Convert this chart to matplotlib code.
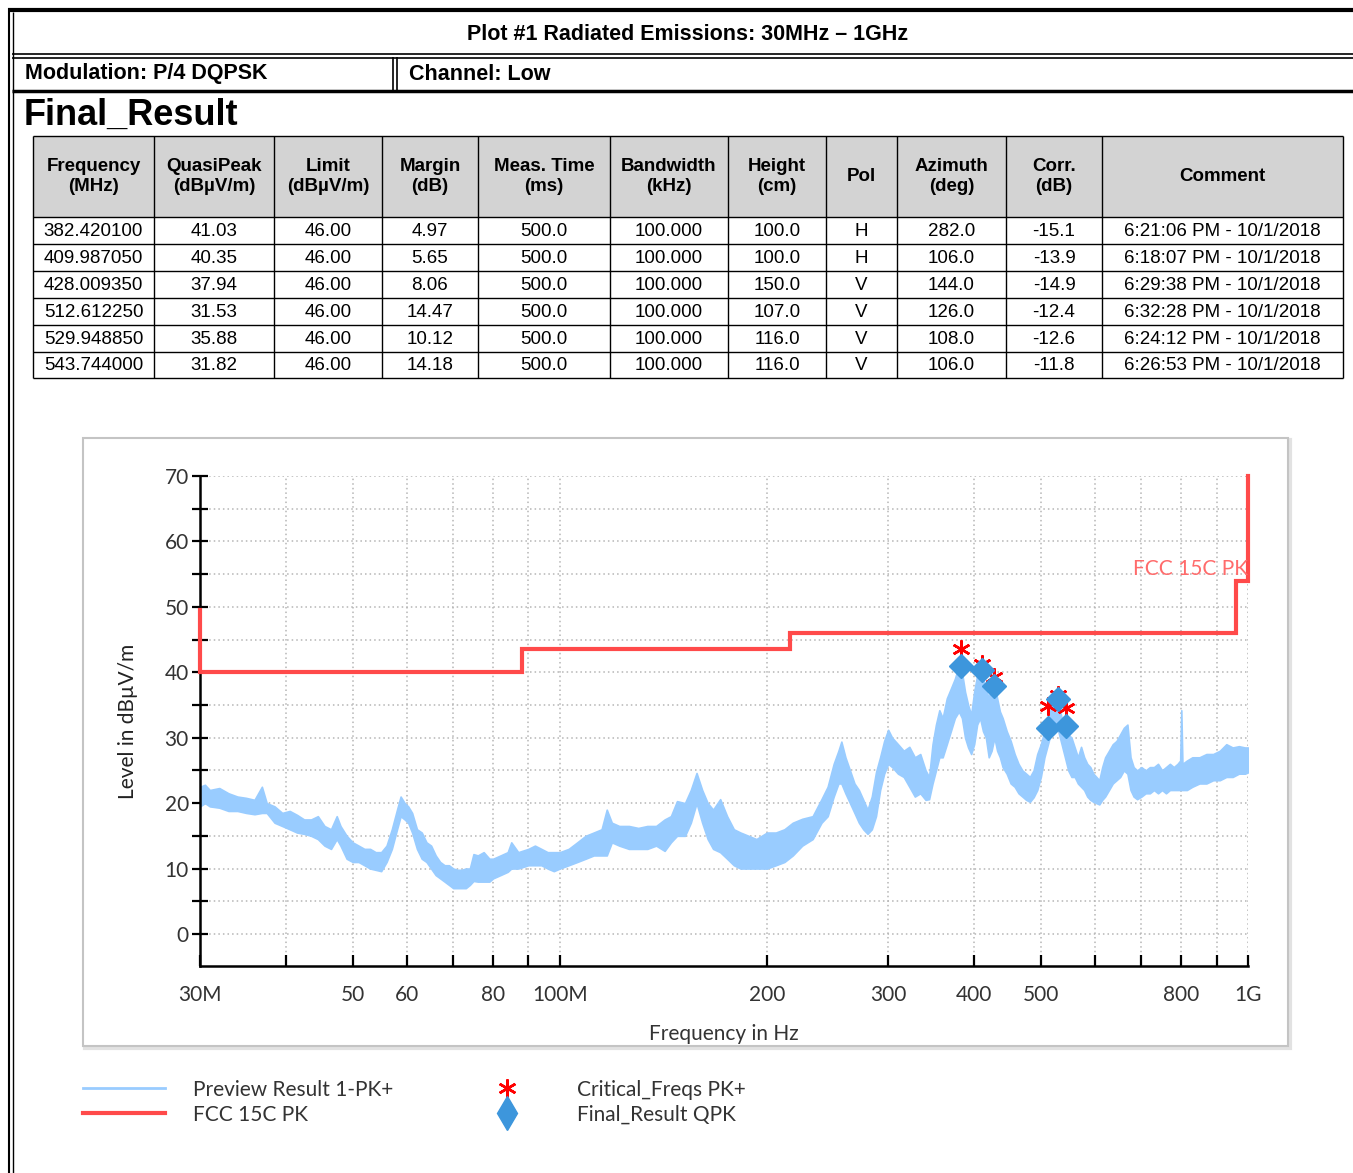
import matplotlib
matplotlib.use("Agg")
import matplotlib.pyplot as plt
import numpy as np

# ---- table data (Final_Result) ----
headers = ["Frequency\n(MHz)", "QuasiPeak\n(dBµV/m)", "Limit\n(dBµV/m)", "Margin\n(dB)",
           "Meas. Time\n(ms)", "Bandwidth\n(kHz)", "Height\n(cm)", "Pol",
           "Azimuth\n(deg)", "Corr.\n(dB)", "Comment"]
freq_mhz = [382.420100, 409.987050, 428.009350, 512.612250, 529.948850, 543.744000]
quasipeak = [41.03, 40.35, 37.94, 31.53, 35.88, 31.82]
limit = [46.00, 46.00, 46.00, 46.00, 46.00, 46.00]
margin = [4.97, 5.65, 8.06, 14.47, 10.12, 14.18]
meas_time = [500.0, 500.0, 500.0, 500.0, 500.0, 500.0]
bandwidth = [100.000, 100.000, 100.000, 100.000, 100.000, 100.000]
height = [100.0, 100.0, 150.0, 107.0, 116.0, 116.0]
pol = ["H", "H", "V", "V", "V", "V"]
azimuth = [282.0, 106.0, 144.0, 126.0, 108.0, 106.0]
corr = [-15.1, -13.9, -14.9, -12.4, -12.6, -11.8]
comment = ["6:21:06 PM - 10/1/2018", "6:18:07 PM - 10/1/2018", "6:29:38 PM - 10/1/2018",
           "6:32:28 PM - 10/1/2018", "6:24:12 PM - 10/1/2018", "6:26:53 PM - 10/1/2018"]

# critical frequencies PK+
crit_level = [43.6, 41.2, 39.3, 34.9, 36.6, 34.6]

# ---- limit line FCC 15C PK ----
lim_freq = [30, 30, 88, 88, 216, 216, 960, 960, 1000, 1000]
lim_level = [49.5, 40, 40, 43.5, 43.5, 46, 46, 54, 54, 70]

# ---- preview trace envelope (MHz, low dB, high dB) ----
trace_freq = [30, 30.5, 31, 32, 33, 34, 35, 36, 36.9, 37.5, 38.5, 39.5, 40.5, 41.5, 42.5, 43.5,
              44.5, 45.5, 46.5, 47.4, 48, 49, 50, 51, 52, 53, 54, 55, 56, 57, 58, 58.7, 59.5,
              60.2, 61, 62, 63, 64, 65, 66, 67, 68, 69, 70, 71, 72, 73, 74, 74.9, 76, 77.5,
              79, 80, 82, 84, 85, 87, 90, 92, 94, 96, 98, 100, 103, 106, 109, 112, 115, 117,
              119, 122, 126, 130, 134, 138, 142, 145, 148, 152, 155, 158, 161, 164, 167, 171,
              175, 179, 183, 188, 193, 200, 206, 212, 218, 225, 233, 240, 245, 250, 254, 256.5,
              260, 264, 268, 272, 276, 280, 284, 288, 292, 296, 300, 304, 310, 316, 322, 328,
              334, 340, 344, 348, 352, 356, 360, 365, 370, 375, 380, 384, 388, 392, 396, 400,
              404, 408, 412, 416, 420, 424, 428, 432, 436, 440, 446, 452, 458, 464, 470, 476,
              482, 488, 494, 500, 506, 512, 518, 524, 530, 536, 542, 548, 554, 560, 566, 572,
              578, 584, 590, 596, 602, 608, 614, 620, 628, 636, 644, 652, 660, 668, 675, 682,
              690, 700, 710, 720, 730, 740, 750, 760, 770, 780, 790, 797, 800, 803, 815, 830,
              850, 870, 890, 910, 930, 950, 970, 990, 1000]
trace_low = [19.5, 20, 19.5, 19.3, 18.8, 18.8, 18.5, 18.3, 18.5, 18.5, 17, 16.5, 16, 15.5, 15.3, 15,
             14.5, 13.5, 13, 14.5, 13.5, 11.5, 11, 11, 10.5, 10, 9.8, 9.6, 11, 13, 16, 18, 17.5,
             17, 15.5, 13, 11.5, 11, 10, 9, 8.5, 8, 7.5, 7, 7, 7, 7, 7.5, 8.1, 8, 8,
             8, 8.5, 9, 9.5, 10, 10, 10.5, 10.5, 10.5, 10, 9.6, 10, 10.5, 11, 11.5, 12, 12, 12,
             14, 13.5, 13, 13, 13, 13.5, 12.7, 14, 15, 15, 17, 20, 17, 14.5, 13, 12.5,
             11.5, 10.5, 10, 10, 10, 10, 10.5, 11, 12, 13.5, 14.5, 17, 18, 21, 23, 23,
             21.5, 20, 18.5, 17, 16, 15.3, 16, 18, 22, 24.5, 26, 25.5, 24.5, 24, 22.5, 21,
             21.5, 20.5, 20.6, 23, 25, 27, 27, 29, 31, 33, 34, 33, 30, 28.5, 27.5, 29,
             32, 33, 31, 30, 27, 28, 30, 28, 27, 25.5, 24.5, 23, 22.5, 21.5, 21, 20.5,
             20.2, 20.9, 22, 24, 27, 29, 31, 32, 31, 29, 27, 25, 24, 24, 23, 22.5,
             22, 21, 20.5, 20.2, 20, 19.8, 20.5, 21, 22, 23, 23.5, 24, 25, 24.5, 22, 21,
             20.6, 21, 21.5, 21.5, 22, 21.5, 22, 21.5, 22, 22, 22, 22, 22, 22, 22, 22.5,
             23, 23, 23.5, 23.5, 24, 24, 24.5, 24.5, 24.7]
trace_high = [22.5, 22.8, 22, 22.3, 21.5, 21, 20.8, 20.5, 22.5, 20, 19.5, 18.5, 18.8, 18.2, 17.5, 17.5,
              18, 16.5, 16, 18, 16.5, 15, 14, 13.5, 13, 13, 12.5, 12.5, 13.5, 16, 19, 21, 20,
              19.5, 18.5, 16, 15.5, 14, 13.5, 12, 11, 10.5, 10.5, 10, 9.8, 9.8, 10, 10, 12.2, 12, 12.5,
              11.5, 11.5, 12, 12.5, 14, 12.5, 13, 13.5, 13, 12.5, 12.5, 12.5, 13, 14, 15, 15.5, 16, 19,
              17, 16.5, 16.5, 16.2, 16.5, 16.5, 17.5, 18, 20.3, 20, 22, 24.6, 22, 20, 19, 20.6,
              18, 16, 15.5, 15, 14.5, 15.5, 15.5, 16, 17, 17.6, 18, 20.6, 22.5, 26, 28, 29.4,
              27, 25, 23, 22, 20.5, 19, 21, 24.7, 27, 29.5, 31.2, 30, 29, 28, 28.6, 27,
              27.5, 25, 24, 29, 32, 34.2, 33, 36, 37.5, 39, 41, 40, 37, 35, 33.5, 37,
              39.5, 40, 39, 37.5, 36, 38, 38, 36, 34, 33, 31, 29.5, 27.5, 26, 25, 24.5,
              24, 25, 27.5, 29, 31, 32, 35, 35.5, 35.5, 33, 31.5, 30.5, 30, 28.5, 27, 28.6,
              27, 26, 25.5, 24.5, 24, 23.5, 25.5, 27, 28, 29, 29.5, 30.5, 31.5, 32, 27, 25.5,
              25, 25.5, 25, 25.5, 25.5, 26, 25, 25.5, 26, 25.5, 26, 26.5, 34.2, 26, 26.5, 27,
              27, 27.5, 27.5, 28, 29, 28.5, 28.7, 28.5, 28.5]

x_tick_major = [30, 50, 60, 80, 100, 200, 300, 400, 500, 800, 1000]
x_tick_labels = ["30M", "50", "60", "80", "100M", "200", "300", "400", "500", "800", "1G"]
x_tick_minor = [40, 70, 90, 600, 700, 900]

W, H = 1353, 1173
fig = plt.figure(figsize=(W / 100, H / 100), dpi=100)
fig.patch.set_facecolor("white")

narrow = ["Liberation Sans", "DejaVu Sans"]
thin = ["Lato", "DejaVu Sans"]
text_grey = "#333333"

# overlay in pixel coordinates for the report frame, table and legend
bg = fig.add_axes([0, 0, 1, 1])
bg.set_xlim(0, W)
bg.set_ylim(H, 0)
bg.axis("off")

def hline(y, x0, x1, lw=1.0):
    bg.plot([x0, x1], [y, y], color="black", lw=lw, solid_capstyle="butt")

def vline(x, y0, y1, lw=1.0):
    bg.plot([x, x], [y0, y1], color="black", lw=lw, solid_capstyle="butt")

# report frame
hline(10, 8, W, lw=3)
vline(8.5, 8, H, lw=1.5)
vline(12.5, 12, H, lw=1.0)
hline(53.5, 12, W, lw=1.2)
hline(57.5, 12, W, lw=1.2)
hline(90.5, 12, W, lw=2.5)
vline(392.5, 57, 90, lw=1.2)
vline(396.5, 57, 90, lw=1.2)

bg.text(688, 34, "Plot #1 Radiated Emissions: 30MHz \u2013 1GHz", ha="center", va="center",
        fontsize=15.5, fontweight="bold", family=narrow)
bg.text(25, 74, "Modulation: P/4 DQPSK", ha="left", va="center",
        fontsize=15.5, fontweight="bold", family=narrow)
bg.text(409, 74, "Channel: Low", ha="left", va="center",
        fontsize=15.5, fontweight="bold", family=narrow)
bg.text(24, 115, "Final_Result", ha="left", va="center",
        fontsize=26, fontweight="bold", family=narrow)

# table
col_x = [33, 154, 274, 382, 478, 610, 728, 826, 897, 1006, 1102, 1343]
row_y = [136, 217, 244, 271, 298, 325, 352, 378]
bg.add_patch(plt.Rectangle((col_x[0], row_y[0]), col_x[-1] - col_x[0], row_y[1] - row_y[0],
                           facecolor="#d3d3d3", edgecolor="none"))
for y in row_y:
    hline(y, col_x[0], col_x[-1], lw=1.0)
for x in col_x:
    vline(x, row_y[0], row_y[-1], lw=1.0)

rows = []
for i in range(len(freq_mhz)):
    rows.append([f"{freq_mhz[i]:.6f}", f"{quasipeak[i]:.2f}", f"{limit[i]:.2f}", f"{margin[i]:.2f}",
                 f"{meas_time[i]:.1f}", f"{bandwidth[i]:.3f}", f"{height[i]:.1f}", pol[i],
                 f"{azimuth[i]:.1f}", f"{corr[i]:.1f}", comment[i]])

for j, h in enumerate(headers):
    cx = (col_x[j] + col_x[j + 1]) / 2
    bg.text(cx, (row_y[0] + row_y[1]) / 2, h, ha="center", va="center", fontsize=13.5,
            fontweight="bold", family=narrow, linespacing=1.3)
for i, r in enumerate(rows):
    cy = (row_y[i + 1] + row_y[i + 2]) / 2
    for j, v in enumerate(r):
        cx = (col_x[j] + col_x[j + 1]) / 2
        bg.text(cx, cy + 1, v, ha="center", va="center", fontsize=13.5, family=narrow)

# chart panel frame
bg.add_patch(plt.Rectangle((85, 440), 1205, 608, facecolor="none", edgecolor="#e2e2e2", lw=3))
bg.add_patch(plt.Rectangle((83, 438), 1205, 608, facecolor="white", edgecolor="#c4c4c4", lw=1.5))

# ---- chart ----
ax = fig.add_axes([200 / W, 1 - 966 / H, 1048 / W, 490 / H])
ax.set_xscale("log")
ax.set_xlim(30, 1000)
ax.set_ylim(-4.9, 70)
ax.set_facecolor("none")

trace_color = "#99ccff"
ax.fill_between(trace_freq, trace_low, trace_high, color=trace_color, lw=1.2,
                edgecolor=trace_color, zorder=2)
ax.plot(lim_freq, lim_level, color="#ff4a4a", lw=3, zorder=3, clip_on=False,
        solid_joinstyle="miter")
ax.plot(freq_mhz, crit_level, ls="none", marker=(6, 2, 0), ms=13, mew=1.8,
        color="#ff0000", zorder=4)
ax.plot(freq_mhz, quasipeak, ls="none", marker="D", ms=12.5, color="#3d96dc",
        mec="#3d96dc", zorder=5)

ax.text(1000, 54.3, "FCC 15C PK", ha="right", va="bottom", color="#ff6b6b",
        fontsize=15, family=thin, zorder=6)

ax.set_xticks(x_tick_major)
ax.set_xticklabels(x_tick_labels)
ax.set_xticks(x_tick_minor, minor=True)
ax.set_xticklabels([], minor=True)
ax.set_yticks(np.arange(0, 71, 10))
ax.set_yticks(np.arange(5, 70, 10), minor=True)

for s in ["top", "right"]:
    ax.spines[s].set_visible(False)
for s in ["left", "bottom"]:
    ax.spines[s].set_linewidth(1.8)
    ax.spines[s].set_color("black")

ax.tick_params(axis="y", which="both", direction="inout", length=12, width=1.6,
               labelsize=15, pad=2, colors="black", labelcolor=text_grey)
ax.tick_params(axis="x", which="both", direction="in", length=8, width=1.6,
               labelsize=15, pad=14, colors="black", labelcolor=text_grey)
for lab in ax.get_xticklabels() + ax.get_yticklabels():
    lab.set_family(thin)

ax.grid(True, which="both", axis="x", color="#b5b5b5", ls=(0, (1, 2)), lw=1.1)
ax.grid(True, which="both", axis="y", color="#b5b5b5", ls=(0, (1, 2)), lw=1.1)
ax.set_axisbelow(True)

ax.set_ylabel("Level in dBµV/m", fontsize=15, family=thin, color="#222222")
ax.yaxis.set_label_coords(-0.059, 0.5)
ax.set_xlabel("Frequency in Hz", fontsize=15, family=thin, color=text_grey)
ax.xaxis.set_label_coords(0.5, -0.118)

# ---- legend below the chart ----
bg.plot([83, 165], [1088, 1088], color=trace_color, lw=2)
bg.plot([83, 165], [1113, 1113], color="#ff4a4a", lw=3)
bg.plot([507], [1088], ls="none", marker=(6, 2, 0), ms=13, mew=1.8, color="#ff0000")
bg.plot([507], [1113], ls="none", marker="d", ms=17, color="#3d96dc")
for x, y, t in [(193, 1090, "Preview Result 1-PK+"), (193, 1115, "FCC 15C PK"),
                (577, 1090, "Critical_Freqs PK+"), (577, 1115, "Final_Result QPK")]:
    bg.text(x, y, t, ha="left", va="center", fontsize=15, family=thin, color=text_grey)

fig.savefig("out.png", dpi=100)
